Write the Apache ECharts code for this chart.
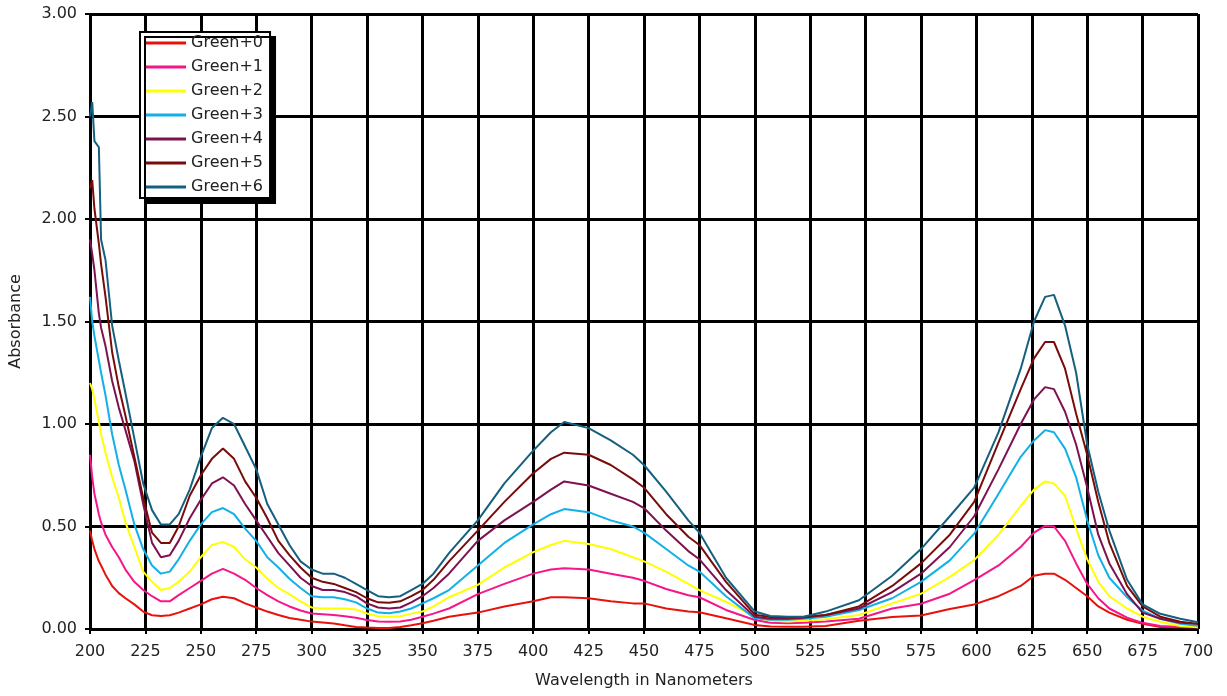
<!DOCTYPE html>
<html><head><meta charset="utf-8">
<script src="https://cdn.jsdelivr.net/npm/echarts@6/dist/echarts.min.js"></script>
<style>html,body{margin:0;padding:0;background:#fff}#c{width:1227px;height:696px}</style>
</head><body><div id="c"></div>
<script>
const wavelengths = [200,201,202,204,205,207,210,213,216,220,
224,228,232,236,240,245,250,255,260,265,
270,275,280,285,290,295,300,305,310,315,
320,325,330,335,340,345,350,355,362,375,
387,400,408,414,425,435,445,450,460,470,
475,487,500,507,515,522,532,547,562,575,
588,599,610,620,626,631,635,640,645,650,
655,660,668,675,683,692,700];

const green0 = [0.48,0.43,0.39,0.33,0.31,0.265,0.21,0.175,0.15,0.12,
0.085,0.067,0.063,0.067,0.08,0.10,0.12,0.145,0.157,0.15,
0.125,0.105,0.085,0.068,0.054,0.045,0.036,0.032,0.027,0.018,
0.01,0.007,0.005,0.005,0.01,0.018,0.028,0.04,0.06,0.08,
0.11,0.135,0.155,0.155,0.15,0.135,0.125,0.125,0.10,0.085,
0.082,0.052,0.02,0.012,0.011,0.011,0.015,0.04,0.058,0.066,
0.098,0.12,0.16,0.21,0.26,0.27,0.27,0.24,0.20,0.16,
0.11,0.08,0.045,0.025,0.01,0.008,0.008];

const green1 = [0.85,0.74,0.66,0.56,0.52,0.46,0.40,0.35,0.29,0.23,
0.19,0.16,0.135,0.135,0.165,0.20,0.235,0.27,0.293,0.27,
0.24,0.20,0.165,0.135,0.11,0.09,0.076,0.072,0.068,0.062,
0.055,0.044,0.037,0.035,0.037,0.045,0.06,0.075,0.10,0.17,
0.22,0.27,0.29,0.296,0.29,0.27,0.25,0.235,0.195,0.165,
0.155,0.093,0.044,0.03,0.028,0.03,0.036,0.05,0.10,0.123,
0.172,0.238,0.31,0.40,0.47,0.503,0.50,0.43,0.32,0.22,
0.15,0.10,0.055,0.03,0.015,0.01,0.008];

const green2 = [1.20,1.17,1.12,1.01,0.95,0.86,0.74,0.64,0.52,0.40,
0.28,0.23,0.19,0.20,0.23,0.28,0.35,0.41,0.425,0.40,
0.34,0.30,0.245,0.20,0.17,0.135,0.105,0.10,0.10,0.10,
0.095,0.076,0.062,0.06,0.062,0.075,0.085,0.11,0.155,0.215,
0.30,0.375,0.41,0.43,0.415,0.39,0.35,0.33,0.28,0.22,
0.19,0.133,0.06,0.04,0.036,0.04,0.047,0.068,0.125,0.172,
0.254,0.336,0.46,0.60,0.68,0.72,0.71,0.65,0.49,0.34,
0.23,0.16,0.10,0.06,0.035,0.015,0.008];

const green3 = [1.62,1.50,1.43,1.31,1.25,1.14,0.95,0.80,0.68,0.51,
0.39,0.31,0.27,0.28,0.34,0.43,0.51,0.57,0.59,0.56,
0.49,0.43,0.35,0.30,0.245,0.20,0.16,0.155,0.155,0.145,
0.13,0.10,0.08,0.077,0.085,0.10,0.125,0.15,0.19,0.31,
0.42,0.51,0.56,0.585,0.57,0.53,0.50,0.47,0.39,0.31,
0.28,0.16,0.052,0.045,0.045,0.05,0.06,0.093,0.15,0.23,
0.335,0.465,0.66,0.84,0.92,0.97,0.96,0.88,0.74,0.53,
0.36,0.25,0.155,0.09,0.05,0.025,0.016];

const green4 = [1.90,1.83,1.75,1.54,1.47,1.38,1.21,1.08,0.97,0.82,
0.61,0.42,0.35,0.36,0.43,0.54,0.63,0.71,0.74,0.70,
0.61,0.53,0.45,0.37,0.31,0.25,0.21,0.19,0.19,0.18,
0.16,0.125,0.105,0.10,0.105,0.13,0.16,0.20,0.27,0.43,
0.53,0.62,0.68,0.72,0.70,0.66,0.62,0.59,0.48,0.38,
0.34,0.19,0.06,0.05,0.05,0.055,0.068,0.10,0.18,0.27,
0.40,0.55,0.78,1.00,1.12,1.18,1.17,1.06,0.90,0.69,
0.46,0.32,0.17,0.08,0.05,0.03,0.025];

const green5 = [2.15,2.19,2.05,1.88,1.78,1.62,1.35,1.18,1.04,0.84,
0.64,0.47,0.42,0.42,0.50,0.65,0.75,0.83,0.88,0.83,
0.72,0.64,0.54,0.43,0.36,0.30,0.25,0.23,0.22,0.20,
0.18,0.15,0.13,0.128,0.135,0.16,0.19,0.24,0.33,0.48,
0.62,0.76,0.83,0.86,0.85,0.80,0.73,0.69,0.56,0.45,
0.41,0.23,0.07,0.058,0.057,0.058,0.068,0.11,0.21,0.32,
0.46,0.62,0.91,1.17,1.32,1.40,1.40,1.27,1.05,0.85,
0.62,0.42,0.21,0.11,0.06,0.035,0.025];

const green6 = [2.50,2.57,2.38,2.35,1.90,1.80,1.48,1.31,1.15,0.93,
0.71,0.58,0.51,0.51,0.56,0.68,0.84,0.98,1.03,1.00,
0.89,0.78,0.61,0.51,0.41,0.33,0.29,0.27,0.27,0.25,
0.22,0.19,0.16,0.155,0.16,0.19,0.22,0.27,0.37,0.53,
0.71,0.87,0.96,1.01,0.98,0.92,0.85,0.80,0.67,0.53,
0.47,0.25,0.085,0.063,0.06,0.06,0.085,0.14,0.26,0.39,
0.55,0.69,0.96,1.27,1.50,1.62,1.63,1.48,1.25,0.90,
0.67,0.48,0.24,0.12,0.074,0.05,0.033];

const seriesNames = ['Green+0','Green+1','Green+2','Green+3','Green+4','Green+5','Green+6'];
const seriesValues = [green0,green1,green2,green3,green4,green5,green6];
const seriesColors = ['#E8120C','#F7168A','#FFFF00','#11B0E8','#7E1250','#7A0B0B','#14607E'];

const FONT = 'DejaVu Sans';
const chart = echarts.init(document.getElementById('c'), null, {renderer:'canvas'});
chart.setOption({
  animation:false,
  backgroundColor:'#fff',
  grid:{left:89,right:29,top:14,bottom:67,containLabel:false},
  legend:{
    orient:'vertical', left:140, top:32,
    itemWidth:40, itemHeight:3, itemGap:8,
    icon:'rect',
    backgroundColor:'#fff', borderColor:'#000', borderWidth:2,
    padding:[3,7,3,6],
    shadowColor:'#000', shadowBlur:0, shadowOffsetX:5, shadowOffsetY:5,
    textStyle:{fontFamily:FONT,fontSize:16,lineHeight:16,color:'#222'},
    data:seriesNames
  },
  xAxis:{
    type:'value', min:200, max:700, interval:25,
    name:'Wavelength in Nanometers', nameLocation:'middle', nameGap:44,
    nameTextStyle:{fontFamily:FONT,fontSize:16,color:'#222'},
    axisLine:{show:true,lineStyle:{color:'#000',width:2}},
    axisTick:{show:true,length:5,lineStyle:{color:'#000',width:2}},
    axisLabel:{fontFamily:FONT,fontSize:16,color:'#222',margin:15},
    splitLine:{show:true,lineStyle:{color:'#000',width:3}}
  },
  yAxis:{
    type:'value', min:0, max:3, interval:0.5,
    name:'Absorbance', nameLocation:'middle', nameGap:66,
    nameTextStyle:{fontFamily:FONT,fontSize:16,color:'#222'},
    axisLine:{show:true,lineStyle:{color:'#000',width:2}},
    axisTick:{show:true,length:5,lineStyle:{color:'#000',width:2}},
    axisLabel:{fontFamily:FONT,fontSize:16,color:'#222',margin:13,formatter:v=>v.toFixed(2)},
    splitLine:{show:true,lineStyle:{color:'#000',width:3}}
  },
  series:seriesNames.map((n,i)=>({
    name:n, type:'line', showSymbol:false, symbol:'none',
    data:wavelengths.map((w,j)=>[w,seriesValues[i][j]]),
    lineStyle:{color:seriesColors[i],width:2},
    itemStyle:{color:seriesColors[i]},
    z:2+i
  }))
});
</script></body></html>
